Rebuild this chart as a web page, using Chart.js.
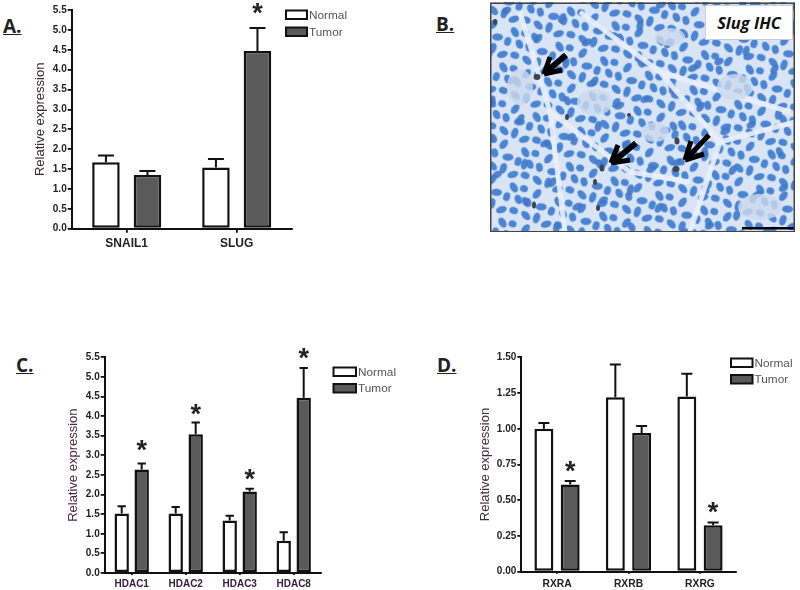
<!DOCTYPE html>
<html><head><meta charset="utf-8">
<script src="https://cdn.jsdelivr.net/npm/chart.js@4"></script>
<style>
html,body{margin:0;padding:0;background:#fff;width:800px;height:590px;overflow:hidden}
canvas{position:absolute;filter:blur(.4px)}
.wrap{position:absolute}
.tag{position:absolute;font:bold 19px "Open Sans",sans-serif;color:#222;text-decoration:underline;line-height:20px}
#ihc{position:absolute;left:490px;top:2px;width:305px;height:230px;filter:blur(.7px)}
#lab{position:absolute;left:705px;top:5px;width:88px;height:35px;background:#fff;border:1px solid #ccd;box-sizing:border-box;font:italic bold 16.5px "Open Sans",sans-serif;text-align:center;line-height:34px;color:#111}
</style></head><body>
<div class="tag" style="left:3px;top:16px">A.</div>
<div class="tag" style="left:436px;top:14px">B.</div>
<div class="tag" style="left:16px;top:355px">C.</div>
<div class="tag" style="left:437px;top:355px">D.</div>

<svg id="ihc" viewBox="0 0 305 230" xmlns="http://www.w3.org/2000/svg">
<defs>
<pattern id="p1" width="47" height="37" patternUnits="userSpaceOnUse" patternTransform="rotate(18)">
<g fill="#4a84d4">
<ellipse cx="6" cy="7" rx="5.5" ry="3.5" transform="rotate(30 6 7)"/><ellipse cx="17" cy="6" rx="3.5" ry="5.5"/>
<ellipse cx="28" cy="9" rx="5.5" ry="3.5" transform="rotate(-35 28 9)"/><ellipse cx="40" cy="6" rx="4.5" ry="3.5"/>
<ellipse cx="10" cy="20" rx="3.5" ry="5.5" transform="rotate(20 10 20)"/><ellipse cx="33" cy="21" rx="3.5" ry="5.5" transform="rotate(-50 33 21)"/>
<ellipse cx="43" cy="19" rx="4" ry="3.5"/><ellipse cx="4" cy="31" rx="4.5" ry="3.5" transform="rotate(60 4 31)"/>
<ellipse cx="18" cy="31" rx="5.5" ry="3.5" transform="rotate(-15 18 31)"/><ellipse cx="29" cy="32" rx="3.5" ry="4.5"/>
<ellipse cx="41" cy="31" rx="5" ry="3.5" transform="rotate(45 41 31)"/>
</g></pattern>
<pattern id="p2" width="83" height="71" patternUnits="userSpaceOnUse" patternTransform="rotate(-27)">
<g fill="#3f78c8" opacity=".9">
<ellipse cx="11" cy="15" rx="5" ry="3.5"/><ellipse cx="40" cy="18" rx="3.5" ry="5.5" transform="rotate(40 40 18)"/>
<ellipse cx="68" cy="9" rx="5.5" ry="3.5"/><ellipse cx="24" cy="52" rx="3.5" ry="5"/><ellipse cx="57" cy="47" rx="5.5" ry="3.5" transform="rotate(-30 57 47)"/>
</g></pattern>
</defs>
<rect width="305" height="230" fill="#d9e5f5"/>
<rect width="305" height="230" fill="url(#p1)"/>
<rect width="305" height="230" fill="url(#p2)"/>
<g fill="none" stroke="#eaf1fb" stroke-width="5" opacity=".9">
<path d="M30 10L60 110L75 230"/><path d="M90 10L170 70L230 140L200 230"/><path d="M170 70L300 110"/><path d="M60 110L140 170L200 180"/><path d="M230 140L305 120"/>
</g>
<g fill="#cddbee" opacity=".8">
<ellipse cx="105" cy="100" rx="18" ry="13"/><ellipse cx="180" cy="35" rx="15" ry="9"/><ellipse cx="245" cy="85" rx="18" ry="13"/>
<ellipse cx="30" cy="85" rx="13" ry="18"/><ellipse cx="165" cy="130" rx="14" ry="10"/><ellipse cx="270" cy="205" rx="22" ry="13"/>
</g>
<g fill="#3c4450">
<ellipse cx="47" cy="75" rx="3.5" ry="3"/><ellipse cx="112" cy="166" rx="2.5" ry="3.5"/><ellipse cx="186" cy="167" rx="3.5" ry="3"/><ellipse cx="187" cy="139" rx="2.5" ry="3.5"/>
<ellipse cx="5" cy="20" rx="2" ry="3"/><ellipse cx="44" cy="203" rx="2" ry="3.5"/><ellipse cx="105" cy="180" rx="2" ry="3"/><ellipse cx="139" cy="113" rx="2" ry="2"/><ellipse cx="77" cy="115" rx="2" ry="3"/><ellipse cx="108" cy="206" rx="2" ry="3"/>
</g>
<g stroke="#000" fill="none" stroke-linecap="butt" stroke-linejoin="miter">
<path d="M76 53L56 70" stroke-width="6"/><path d="M54 72L60 55M54 72L72 68" stroke-width="5"/>
<path d="M146 141L124 159" stroke-width="6"/><path d="M121 161L128 143M121 161L140 158" stroke-width="5"/>
<path d="M219 133L198 155" stroke-width="5"/><path d="M195 158L201 139M195 158L214 152" stroke-width="5"/>
</g>
<rect x="252" y="225" width="52" height="2.5" fill="#000"/>
<rect x=".75" y="1.25" width="303.5" height="228.5" fill="none" stroke="#444" stroke-width="1.5"/>
</svg>
<div id="lab">Slug IHC</div>

<div class="wrap" style="left:0;top:0;width:400px;height:270px"><canvas id="a"></canvas></div>
<div class="wrap" style="left:0;top:340px;width:420px;height:250px"><canvas id="c"></canvas></div>
<div class="wrap" style="left:420px;top:340px;width:380px;height:250px"><canvas id="d"></canvas></div>

<script>
const seriesNames = ['Normal', 'Tumor'];

const categoriesA = ['SNAIL1', 'SLUG'];
const normalA = [1.67, 1.54];
const tumorA = [1.35, 4.47];
const normalTopA = [1.84, 1.75];
const tumorTopA = [1.45, 5.05];
const starsA = [null, 5.5];

const categoriesC = ['HDAC1', 'HDAC2', 'HDAC3', 'HDAC8'];
const normalC = [1.52, 1.52, 1.34, 0.82];
const tumorC = [2.64, 3.54, 2.08, 4.47];
const normalTopC = [1.7, 1.68, 1.46, 1.04];
const tumorTopC = [2.79, 3.84, 2.15, 5.23];
const starsC = [3.21, 4.12, 2.47, 5.56];

const categoriesD = ['RXRA', 'RXRB', 'RXRG'];
const normalD = [1.0, 1.22, 1.225];
const tumorD = [0.61, 0.97, 0.325];
const normalTopD = [1.04, 1.45, 1.385];
const tumorTopD = [0.635, 1.02, 0.345];
const starsD = [0.725, null, 0.438];

const INK = '#111', DARK = '#5a5a5a';

const marks = {
  id: 'marks',
  afterDatasetsDraw(chart, args, o) {
    const c = chart.ctx, y = chart.scales.y;
    c.save();
    c.strokeStyle = INK;
    c.lineWidth = 2;
    chart.data.datasets.forEach((ds, i) => {
      chart.getDatasetMeta(i).data.forEach((bar, j) => {
        const top = y.getPixelForValue(ds.errTop[j]);
        const base = y.getPixelForValue(ds.data[j]);
        const cap = bar.width * 0.29;
        c.beginPath();
        c.moveTo(bar.x, base); c.lineTo(bar.x, top);
        c.moveTo(bar.x - cap, top); c.lineTo(bar.x + cap, top);
        c.stroke();
      });
    });
    c.fillStyle = '#222';
    c.font = 'bold 27px "Liberation Sans"';
    c.textAlign = 'center';
    c.textBaseline = 'alphabetic';
    const tm = chart.getDatasetMeta(1).data;
    o.stars.forEach((v, j) => {
      if (v === null) return;
      c.fillText('*', tm[j].x, y.getPixelForValue(v) + 12);
    });
    // legend, drawn from the dataset names and fills
    c.textBaseline = 'middle';
    c.textAlign = 'left';
    c.font = '11.8px "Liberation Sans"';
    chart.data.datasets.forEach((ds, i) => {
      const by = o.legend.y + i * o.legend.step;
      c.fillStyle = ds.backgroundColor;
      c.lineWidth = 2;
      c.fillRect(o.legend.x, by, o.legend.w, o.legend.h);
      c.strokeRect(o.legend.x, by, o.legend.w, o.legend.h);
      c.fillStyle = '#555';
      c.fillText(ds.label, o.legend.x + o.legend.w + 2, by + o.legend.h / 2 + .5);
    });
    c.restore();
  }
};

function panel(id, cfg) {
  const el = document.getElementById(id);
  new Chart(el, {
    type: 'bar',
    plugins: [marks],
    data: {
      labels: cfg.cats,
      datasets: [
        { label: seriesNames[0], data: cfg.normal, errTop: cfg.normalTop, backgroundColor: '#ffffff' },
        { label: seriesNames[1], data: cfg.tumor, errTop: cfg.tumorTop, backgroundColor: DARK }
      ]
    },
    options: {
      responsive: false, animation: false, devicePixelRatio: 1,
      datasets: { bar: {
        borderColor: INK, borderWidth: 2.5, borderSkipped: false,
        categoryPercentage: cfg.catPct, barPercentage: cfg.barPct
      } },
      layout: { padding: cfg.pad },
      plugins: {
        legend: { display: false }, tooltip: { enabled: false },
        marks: { stars: cfg.stars, legend: cfg.legend }
      },
      scales: {
        x: {
          offset: true,
          afterFit: s => { s.height = cfg.xH; },
          border: { color: INK, width: 2 },
          grid: { offset: false, drawOnChartArea: false, color: INK, tickColor: INK, tickLength: cfg.xTick, lineWidth: 1.8 },
          ticks: { color: cfg.xColor, padding: cfg.xPad, maxRotation: 0, font: { family: '"Liberation Sans"', weight: 'bold', size: cfg.xSize } }
        },
        y: {
          min: 0, max: cfg.max,
          afterFit: s => { s.width = cfg.yW; },
          border: { color: INK, width: 2 },
          grid: { drawOnChartArea: false, color: INK, tickColor: INK, tickLength: 4, lineWidth: 1.8 },
          ticks: { stepSize: cfg.step, color: '#222', padding: 1, autoSkip: false,
            callback: v => v.toFixed(cfg.dec),
            font: { family: '"Liberation Sans"', weight: 'bold', size: 10 } },
          title: { display: true, text: 'Relative expression', color: cfg.titleColor, padding: 0,
            font: { family: '"Liberation Sans"', size: 13, lineHeight: 1.2 } }
        }
      }
    }
  });
}

function size(id, w, h) { const e = document.getElementById(id); e.width = w; e.height = h; e.style.width = w + 'px'; e.style.height = h + 'px'; }
size('a', 400, 270); size('c', 420, 250); size('d', 380, 250);

panel('a', {
  cats: categoriesA, normal: normalA, tumor: tumorA, normalTop: normalTopA, tumorTop: tumorTopA, stars: starsA,
  max: 5.5, step: 0.5, dec: 1, catPct: .755, barPct: .663,
  pad: { left: 33, right: 108.3, top: 10, bottom: 11.3 }, yW: 38.7, xH: 30, xTick: 4, xPad: 4, xSize: 12,
  xColor: '#222', titleColor: '#3a2a30',
  legend: { x: 286, y: 10.5, w: 21, h: 8.5, step: 17 }
});
panel('c', {
  cats: categoriesC, normal: normalC, tumor: tumorC, normalTop: normalTopC, tumorTop: tumorTopC, stars: starsC,
  max: 5.5, step: 0.5, dec: 1, catPct: .74, barPct: .72,
  pad: { left: 66, right: 99.3, top: 17.3, bottom: 0 }, yW: 38.7, xH: 17, xTick: 2, xPad: 3, xSize: 10,
  xColor: '#3a2040', titleColor: '#4a2a3a',
  legend: { x: 333.5, y: 27.5, w: 22.5, h: 8.5, step: 16.5 }
});
panel('d', {
  cats: categoriesD, normal: normalD, tumor: tumorD, normalTop: normalTopD, tumorTop: tumorTopD, stars: starsD,
  max: 1.5, step: 0.25, dec: 2, catPct: .736, barPct: .72,
  pad: { left: 57.2, right: 64.3, top: 17.3, bottom: 0 }, yW: 44.1, xH: 18.3, xTick: 2, xPad: 4, xSize: 10.3,
  xColor: '#222', titleColor: '#4a2a3a',
  legend: { x: 311, y: 18.5, w: 21.5, h: 8.5, step: 16.5 }
});
</script>
</body></html>
